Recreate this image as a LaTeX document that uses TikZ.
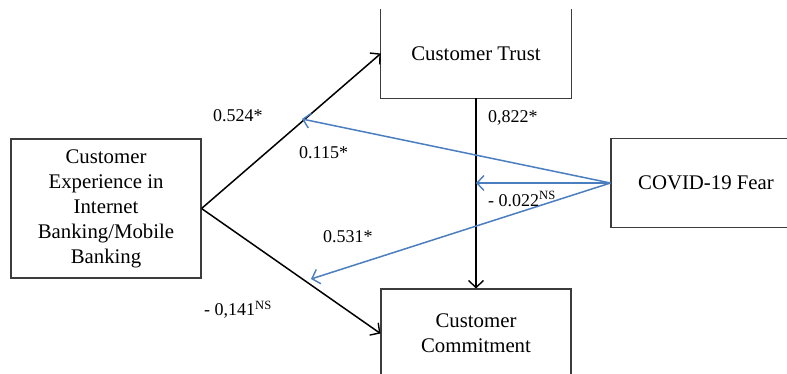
\documentclass[tikz,border=0pt]{standalone}
\usepackage{fontspec}
\setmainfont{Liberation Serif}
\usetikzlibrary{arrows.meta}
\definecolor{pathblue}{HTML}{4A7EBF}
\definecolor{boxline}{HTML}{3C3C3C}
\begin{document}
\begin{tikzpicture}[x=1pt,y=-1pt,
  box/.style={minimum width=190pt,minimum height=89pt,inner sep=0pt,
    align=center,font=\fontsize{20.8}{25}\selectfont},
  framed/.style={box,draw=boxline,line width=1.1pt},
  coef/.style={anchor=west,inner sep=0pt,font=\fontsize{18}{20}\selectfont},
  effect/.style={line width=1.5pt,-{Straight Barb[length=7pt,width=15pt,line width=1.4pt]}},
  moderator/.style={effect,draw=pathblue}]
\useasboundingbox (0,0) rectangle (787,373);
\clip (0,0) rectangle (787,373);

% constructs
\node[framed,minimum height=139pt] (exp) at (106,208.5)
  {Customer\\Experience in\\Internet\\Banking/Mobile\\Banking};
\node[box] (trust) at (476,53.5) {Customer Trust};
\draw[boxline,line width=1.1pt] (trust.north west) -- (trust.south west)
  -- (trust.south east) -- (trust.north east);
\node[framed] (commit) at (476,333.5) {Customer\\Commitment};
\node[framed] (fear) at (706,183) {COVID-19 Fear};

% points where the moderating paths meet the direct paths
\coordinate (m1) at (302,119);
\coordinate (m2) at (476,183);
\coordinate (m3) at (311,279);

% direct effects
\draw[effect] (exp.east) -- (trust.west);
\draw[effect] (exp.east) -- (commit.west);
\draw[effect] (trust.south) -- (commit.north);

% moderating effects
\draw[moderator] (fear.west) -- (m1);
\draw[moderator] (fear.west) -- (m2);
\draw[moderator] (fear.west) -- (m3);

% path coefficients
\node[coef] (c1) at (213,116) {0.524*};
\node[coef] (c2) at (299,153) {0.115*};
\node[coef] (c3) at (323,237) {0.531*};
\node[coef] (c4) at (204,310) {- 0,141\textsuperscript{NS}};
\node[coef] (c5) at (488,118) {0,822*};
\node[coef] (c6) at (488,199) {- 0.022\textsuperscript{NS}};
\end{tikzpicture}
\end{document}
